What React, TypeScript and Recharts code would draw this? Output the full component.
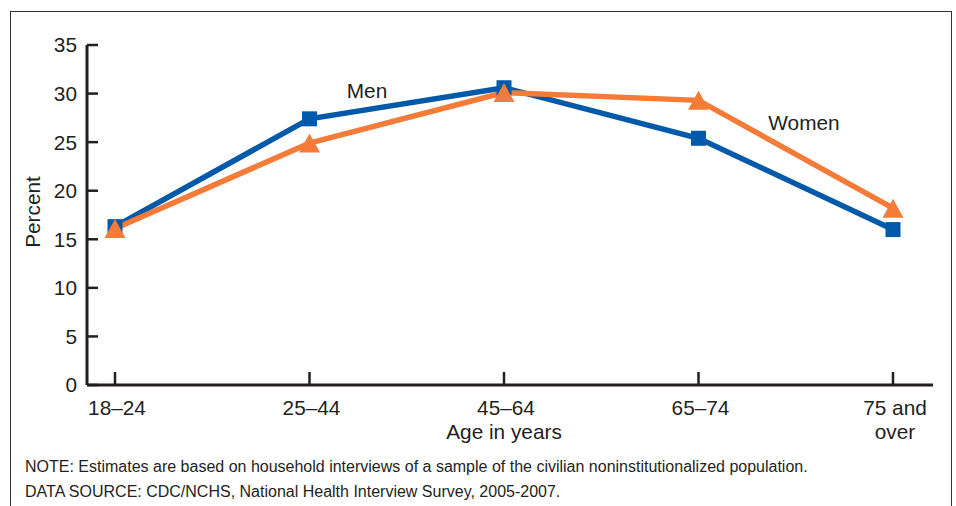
import React from "react";
import { LineChart, Line, XAxis, YAxis } from "recharts";

const categories = ["18–24", "25–44", "45–64", "65–74", "75 and\nover"];
const menValues = [16.3, 27.4, 30.6, 25.4, 16.0];
const womenValues = [16.1, 24.9, 30.1, 29.3, 18.2];
const yTicks = [0, 5, 10, 15, 20, 25, 30, 35];
const noteLines = [
  "NOTE: Estimates are based on household interviews of a sample of the civilian noninstitutionalized population.",
  "DATA SOURCE: CDC/NCHS, National Health Interview Survey, 2005-2007.",
];

const data = categories.map((c, i) => ({ cat: c, men: menValues[i], women: womenValues[i] }));

const FONT = "'Liberation Sans', Arial, Helvetica, sans-serif";
const BLUE = "#0059a9";
const ORANGE = "#f47b38";
const INK = "#231f20";
const FS = 20.8;

const SquareDot = (props: any) => {
  const { cx, cy } = props;
  if (cx == null || cy == null) return null;
  const s = 15;
  return <rect x={cx - s / 2} y={cy - s / 2} width={s} height={s} fill={BLUE} />;
};

const TriDot = (props: any) => {
  const { cx, cy } = props;
  if (cx == null || cy == null) return null;
  const w = 21, h = 19;
  const pts = `${cx},${cy - h / 2} ${cx + w / 2},${cy + h / 2} ${cx - w / 2},${cy + h / 2}`;
  return <polygon points={pts} fill={ORANGE} />;
};

const YTick = (props: any) => {
  const { x, y, payload } = props;
  return (
    <g>
      <line x1={x} x2={x + 11} y1={y} y2={y} stroke={INK} strokeWidth={2.5} />
      <text x={x - 10} y={y} dy="0.36em" textAnchor="end" fontSize={FS} fontFamily={FONT} fill={INK}>
        {payload.value}
      </text>
    </g>
  );
};

const XTick = (props: any) => {
  const { x, y, payload } = props;
  const lines = String(payload.value).split("\n");
  return (
    <g>
      <line x1={x} x2={x} y1={y} y2={y - 13} stroke={INK} strokeWidth={2.5} />
      {lines.map((l, i) => (
        <text key={i} x={x + 2} y={y + 30 + i * 24} textAnchor="middle" fontSize={FS} fontFamily={FONT} fill={INK}>
          {l}
        </text>
      ))}
    </g>
  );
};

export default function App() {
  return (
    <div style={{ position: "absolute", left: 0, top: 0, width: 956, height: 506, overflow: "hidden", background: "#fff" }}>
      <div
        style={{
          position: "absolute",
          left: 10,
          top: 11,
          width: 942,
          height: 540,
          border: "1.5px solid #333",
          boxSizing: "border-box",
        }}
      />
      <div style={{ position: "absolute", left: 0, top: 0 }}>
        <LineChart width={956} height={506} data={data} margin={{ top: 45, right: 23, bottom: 0, left: 0 }}>
          <XAxis
            dataKey="cat"
            padding={{ left: 28, right: 40 }}
            axisLine={{ stroke: INK, strokeWidth: 3 }}
            tickLine={false}
            tickSize={0}
            tickMargin={0}
            tick={<XTick />}
            interval={0}
            height={121}
          />
          <YAxis
            domain={[0, 35]}
            ticks={yTicks}
            axisLine={{ stroke: INK, strokeWidth: 3 }}
            tickLine={false}
            tickSize={0}
            tickMargin={0}
            tick={<YTick />}
            width={87}
            interval={0}
          />
          <Line dataKey="men" stroke={BLUE} strokeWidth={5.5} dot={<SquareDot />} activeDot={false} isAnimationActive={false} strokeLinejoin="miter" />
          <Line dataKey="women" stroke={ORANGE} strokeWidth={5.5} dot={<TriDot />} activeDot={false} isAnimationActive={false} strokeLinejoin="miter" />
        </LineChart>
      </div>
      <svg width={956} height={506} style={{ position: "absolute", left: 0, top: 0, pointerEvents: "none" }}>
        <text x={33} y={212} transform="rotate(-90 33 212)" dy="0.36em" textAnchor="middle" fontSize={FS} fontFamily={FONT} fill={INK}>
          Percent
        </text>
        <text x={504} y={439} textAnchor="middle" fontSize={FS} fontFamily={FONT} fill={INK}>
          Age in years
        </text>
        <text x={367} y={91} dy="0.36em" textAnchor="middle" fontSize={FS} fontFamily={FONT} fill={INK}>
          Men
        </text>
        <text x={804} y={123} dy="0.36em" textAnchor="middle" fontSize={FS} fontFamily={FONT} fill={INK}>
          Women
        </text>
        {noteLines.map((t, i) => (
          <text key={i} x={25} y={471.5 + i * 25} fontSize={16} fontFamily={FONT} fill={INK}>
            {t}
          </text>
        ))}
      </svg>
    </div>
  );
}
